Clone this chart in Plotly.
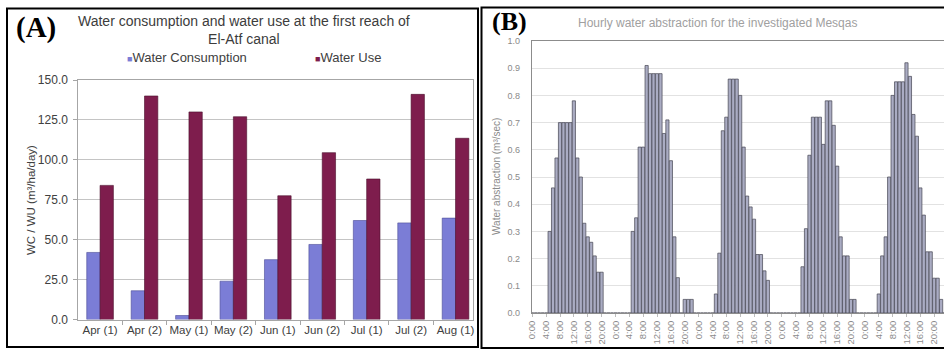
import plotly.graph_objects as go

W, H = 944, 350

# ---------------- Panel A data ----------------
periods = ["Apr (1)", "Apr (2)", "May (1)", "May (2)", "Jun (1)", "Jun (2)", "Jul (1)", "Jul (2)", "Aug (1)"]
water_consumption = [42.0, 18.0, 2.5, 24.0, 37.5, 47.0, 62.0, 60.5, 63.5]
water_use = [84.0, 140.0, 130.0, 127.0, 77.5, 104.5, 88.0, 141.0, 113.5]
a_yticks = [0, 25, 50, 75, 100, 125, 150]

# ---------------- Panel B data (hourly, 5 days x 24 h) ----------------
day1 = [0, 0, 0, 0, 0, 0.30, 0.46, 0.57, 0.70, 0.70, 0.70, 0.70, 0.78, 0.57, 0.50, 0.33, 0.28, 0.26, 0.21, 0.15, 0.15, 0, 0, 0]
day2 = [0, 0, 0, 0, 0, 0.30, 0.35, 0.61, 0.61, 0.91, 0.88, 0.88, 0.88, 0.88, 0.66, 0.71, 0.56, 0.28, 0.13, 0, 0.05, 0.05, 0.05, 0]
day3 = [0, 0, 0, 0, 0, 0.07, 0.22, 0.67, 0.72, 0.86, 0.86, 0.86, 0.80, 0.61, 0.43, 0.39, 0.345, 0.215, 0.215, 0.155, 0.12, 0, 0, 0]
day4 = [0, 0, 0, 0, 0, 0, 0.17, 0.31, 0.58, 0.72, 0.72, 0.72, 0.62, 0.78, 0.78, 0.69, 0.54, 0.28, 0.21, 0.21, 0.05, 0.05, 0, 0]
day5 = [0, 0, 0, 0, 0.07, 0.21, 0.28, 0.50, 0.80, 0.85, 0.85, 0.85, 0.92, 0.87, 0.73, 0.65, 0.46, 0.36, 0.225, 0.225, 0.128, 0.128, 0.05, 0]
hour_labels = ["0:00", "4:00", "8:00", "12:00", "16:00", "20:00"]

abstraction = day1 + day2 + day3 + day4 + day5
hours = list(range(len(abstraction)))
b_tickvals = list(range(0, len(abstraction), 4))
b_ticktext = [hour_labels[(v % 24) // 4] for v in b_tickvals]


def px(x):
    return x / W


def py(y):
    return 1 - y / H


WC_COLOR = "#7b7dd6"
WU_COLOR = "#7e1d4d"
FONT = "Liberation Sans, Arial, sans-serif"

fig = go.Figure()
fig.add_trace(go.Bar(x=periods, y=water_consumption, name="Water Consumption",
                     width=0.3, offset=-0.3,
                     marker=dict(color=WC_COLOR, line=dict(color="#4b4c96", width=0.6)),
                     xaxis="x", yaxis="y", showlegend=False))
fig.add_trace(go.Bar(x=periods, y=water_use, name="Water Use",
                     width=0.3, offset=0.0,
                     marker=dict(color=WU_COLOR, line=dict(color="#4a0f2c", width=0.6)),
                     xaxis="x", yaxis="y", showlegend=False))
fig.add_trace(go.Bar(x=hours, y=abstraction, name="Hourly abstraction",
                     width=0.92, offset=-0.46,
                     marker=dict(color="#aaacc3", line=dict(color="#454552", width=0.7)),
                     xaxis="x2", yaxis="y2", showlegend=False))

fig.update_layout(
    width=W, height=H, autosize=False,
    margin=dict(l=0, r=0, t=0, b=0),
    paper_bgcolor="white", plot_bgcolor="white",
    barmode="overlay",
    xaxis=dict(domain=[px(78.3), px(473.3)], range=[-0.49, 8.4], anchor="y",
               type="category", tickangle=0,
               tickfont=dict(family=FONT, size=11.5, color="#404040"),
               showline=True, linecolor="#a6a6a6",
               mirror=True, ticks="outside", tickson="boundaries", ticklen=4,
               tickcolor="#a6a6a6", showgrid=False, automargin=False, fixedrange=True),
    yaxis=dict(domain=[py(319.5), py(80)], range=[0, 150], anchor="x",
               tickvals=a_yticks, tickformat=".1f",
               tickfont=dict(family=FONT, size=12, color="#404040"),
               ticklabelstandoff=3,
               showline=True, linecolor="#a6a6a6", mirror=True, ticks="outside",
               ticklen=4, tickcolor="#a6a6a6", showgrid=True, gridcolor="#c4c4c4",
               zeroline=False, automargin=False, fixedrange=True),
    xaxis2=dict(domain=[px(531.7), 1.0], range=[-0.17, 118.83], anchor="y2",
                tickvals=b_tickvals, ticktext=b_ticktext, tickangle=-90,
                tickfont=dict(family=FONT, size=9.5, color="#8a8a8a"),
                showline=True, linecolor="#8c8c8c", mirror=True, ticks="outside",
                ticklen=3, tickcolor="#bdbdbd", showgrid=False, zeroline=False,
                automargin=False, fixedrange=True),
    yaxis2=dict(domain=[py(313), py(41)], range=[0, 1.0], anchor="x2",
                dtick=0.1, tickformat=".1f",
                tickfont=dict(family=FONT, size=9, color="#8a8a8a"),
                ticklabelstandoff=9,
                showline=True, linecolor="#8c8c8c", ticks="",
                showgrid=True, gridcolor="#e2e2e2", zeroline=False,
                automargin=False, fixedrange=True),
)

shapes = [
    dict(type="rect", xref="paper", yref="paper", x0=px(7), x1=px(478), y0=py(347), y1=py(8.5),
         line=dict(color="black", width=2), fillcolor="rgba(0,0,0,0)", layer="above"),
    dict(type="rect", xref="paper", yref="paper", x0=px(481.5), x1=px(960), y0=py(348), y1=py(7.5),
         line=dict(color="black", width=2), fillcolor="rgba(0,0,0,0)", layer="above"),
]

annotations = [
    dict(text="<b>(A)</b>", x=px(14), y=py(28), xref="paper", yref="paper",
         xanchor="left", yanchor="middle", showarrow=False,
         font=dict(family="Liberation Serif, Times New Roman, serif", size=29, color="black")),
    dict(text="<b>(B)</b>", x=px(490), y=py(22), xref="paper", yref="paper",
         xanchor="left", yanchor="middle", showarrow=False,
         font=dict(family="Liberation Serif, Times New Roman, serif", size=26, color="black")),
    dict(text="Water consumption and water use at the first reach of<br>El-Atf canal",
         x=px(244), y=py(29.5), xref="paper", yref="paper", xanchor="center", yanchor="middle",
         showarrow=False, align="center",
         font=dict(family=FONT, size=14, color="#3c3c3c")),
    dict(text=f"<span style='color:{WC_COLOR};font-size:9px'>■</span>Water Consumption",
         x=px(125), y=py(58), xref="paper", yref="paper", xanchor="left", yanchor="middle",
         showarrow=False, font=dict(family=FONT, size=13, color="#404040")),
    dict(text=f"<span style='color:{WU_COLOR};font-size:9px'>■</span>Water Use",
         x=px(313), y=py(58), xref="paper", yref="paper", xanchor="left", yanchor="middle",
         showarrow=False, font=dict(family=FONT, size=13, color="#404040")),
    dict(text="WC / WU (m³/ha/day)", x=px(31), y=py(200), xref="paper", yref="paper",
         xanchor="center", yanchor="middle", textangle=-90, showarrow=False,
         font=dict(family=FONT, size=11.5, color="#404040")),
    dict(text="Hourly water abstraction for the investigated Mesqas",
         x=px(717), y=py(23), xref="paper", yref="paper", xanchor="center", yanchor="middle",
         showarrow=False, font=dict(family=FONT, size=12, color="#a0a0a0")),
    dict(text="Water abstraction (m³/sec)", x=px(497), y=py(177), xref="paper", yref="paper",
         xanchor="center", yanchor="middle", textangle=-90, showarrow=False,
         font=dict(family=FONT, size=10, color="#8a8a8a")),
]

fig.update_layout(shapes=shapes, annotations=annotations)
fig.write_html("out.html",
               config={"displayModeBar": False, "staticPlot": True},
               post_script="document.body.style.margin='0';document.body.style.overflow='hidden';")
